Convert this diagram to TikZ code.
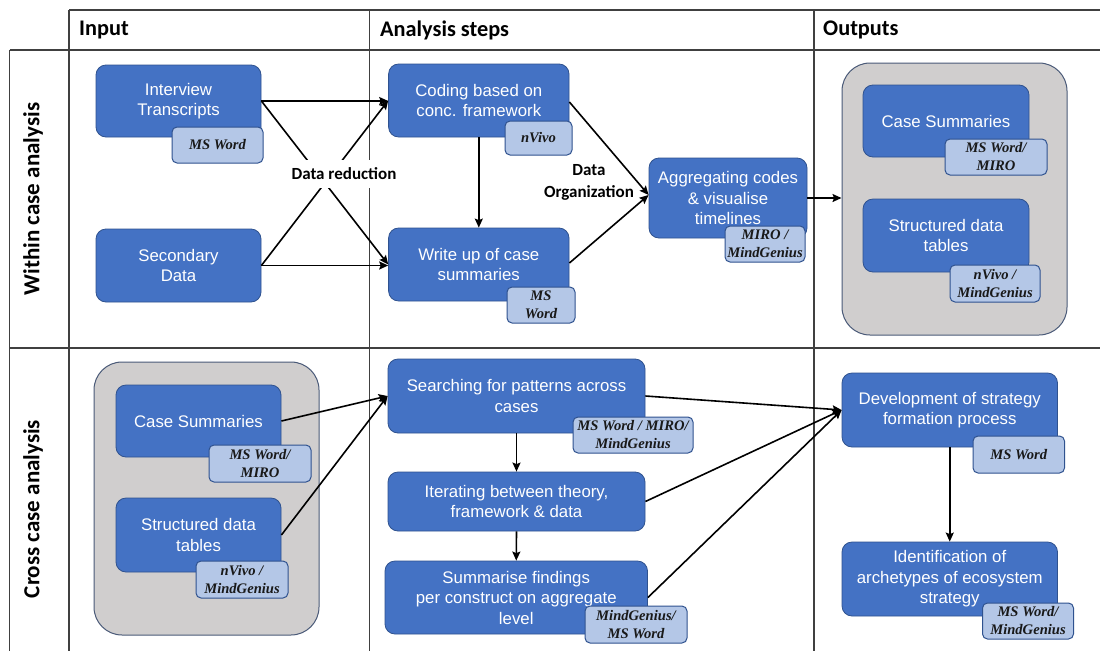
\documentclass[tikz,border=0pt]{standalone}
\usepackage{fontspec}
\setmainfont{Liberation Sans}
\newfontfamily\headfont{Carlito}
\newfontfamily\toolfont{Liberation Serif}
\usetikzlibrary{arrows.meta,calc}
\definecolor{boxblue}{HTML}{4472C4}
\definecolor{boxedge}{HTML}{2F528F}
\definecolor{tagblue}{HTML}{B4C7E7}
\definecolor{groupgray}{HTML}{D0CECE}
\definecolor{groupedge}{HTML}{4A5A78}
\definecolor{gridline}{HTML}{404040}

\begin{document}
\begin{tikzpicture}[x=1pt,y=-1pt,
  gridrule/.style={draw=gridline, line width=1.1pt},
  bluebox/.style={draw=boxedge, line width=0.8pt, fill=boxblue, rounded corners=10pt,
    text=white, align=center, font=\fontsize{16.8}{20.5}\selectfont, inner sep=0pt},
  tooltag/.style={draw=boxedge, line width=1pt, fill=tagblue, rounded corners=5pt,
    align=center, font=\toolfont\bfseries\itshape\fontsize{14.6}{18}\selectfont,
    inner sep=0pt, text=black!90},
  groupbox/.style={draw=groupedge, line width=1pt, fill=groupgray, rounded corners=28pt, inner sep=0pt},
  colhead/.style={font=\headfont\bfseries\fontsize{22.3}{26}\selectfont, anchor=west, inner sep=0pt},
  rowhead/.style={font=\headfont\bfseries\fontsize{23}{27}\selectfont, rotate=90, inner sep=0pt},
  lbl/.style={font=\headfont\bfseries\fontsize{17}{22}\selectfont, align=center},
  arr/.style={draw=black, line width=1.6pt, -{Stealth[length=9pt,width=8pt,inset=1.5pt]}}
]
\useasboundingbox (0,0) rectangle (1100,651);
\fill[white] (0,0) rectangle (1100,651);

% table rules
\draw[gridrule] (69,10) -- (1100,10);
\draw[gridrule] (9.5,50) -- (1100,50);
\draw[gridrule] (9.5,348) -- (1100,348);
\draw[gridrule] (9.5,50) -- (9.5,651);
\draw[gridrule] (69,10) -- (69,651);
\draw[gridrule] (369.5,10) -- (369.5,651);
\draw[gridrule] (814,10) -- (814,651);

% column and row headings
\node[colhead] (hinput) at (79,30) {Input};
\node[colhead] (hsteps) at (380,30) {Analysis steps};
\node[colhead] (houtputs) at (823,30) {Outputs};
\node[rowhead] (hwithin) at (33,199) {Within case analysis};
\node[rowhead] (hcross) at (33,509) {Cross case analysis};

% within case analysis
\node[bluebox, minimum width=165pt, minimum height=72pt] (interview) at (178.5,101) {Interview\\Transcripts};
\node[tooltag, minimum width=91pt, minimum height=36pt] (interviewtool) at (217.5,145) {MS Word};
\node[bluebox, minimum width=165pt, minimum height=73pt] (secondary) at (178.5,265.5) {Secondary\\Data};

\node[bluebox, minimum width=180.4pt, minimum height=73pt] (coding) at (478.8,100.5) {Coding based on\\conc. framework};
\node[tooltag, minimum width=67pt, minimum height=34pt] (codingtool) at (538.5,138) {nVivo};
\node[bluebox, minimum width=180.4pt, minimum height=73pt] (writeup) at (478.8,264.5) {Write up of case\\summaries};
\node[tooltag, minimum width=68pt, minimum height=36pt] (writeuptool) at (541,305) {MS\\Word};

\node[bluebox, minimum width=158pt, minimum height=80pt] (aggregate) at (728,198) {Aggregating codes\\\& visualise\\timelines};
\node[tooltag, minimum width=80pt, minimum height=36pt] (aggregatetool) at (765,244) {MIRO /\\MindGenius};

\node[groupbox, minimum width=225pt, minimum height=272pt] (outgroup) at (954.5,199) {};
\node[bluebox, minimum width=166pt, minimum height=72pt] (outcase) at (946,121) {Case Summaries};
\node[tooltag, minimum width=102pt, minimum height=36pt] (outcasetool) at (996,157) {MS Word/\\MIRO};
\node[bluebox, minimum width=166pt, minimum height=73pt] (outstruct) at (946,235.5) {Structured data\\tables};
\node[tooltag, minimum width=90pt, minimum height=37pt] (outstructtool) at (995,283.5) {nVivo /\\MindGenius};

% cross case analysis
\node[groupbox, minimum width=225pt, minimum height=273pt] (ingroup) at (206.5,498.5) {};
\node[bluebox, minimum width=165pt, minimum height=72pt] (incase) at (198.5,421) {Case Summaries};
\node[tooltag, minimum width=102pt, minimum height=37pt] (incasetool) at (260,463.5) {MS Word/\\MIRO};
\node[bluebox, minimum width=165pt, minimum height=74pt] (instruct) at (198.5,535) {Structured data\\tables};
\node[tooltag, minimum width=92pt, minimum height=37pt] (instructtool) at (242,579.5) {nVivo /\\MindGenius};

\node[bluebox, minimum width=257pt, minimum height=74pt] (search) at (516.5,396) {Searching for patterns across\\cases};
\node[tooltag, minimum width=120pt, minimum height=36pt] (searchtool) at (633,435) {MS Word / MIRO/\\MindGenius};
\node[bluebox, minimum width=257pt, minimum height=59pt] (iterate) at (516.5,501.5) {Iterating between theory,\\framework \& data};
\node[bluebox, minimum width=262.5pt, minimum height=73pt] (summarise) at (516.25,597.5) {Summarise findings\\per construct on aggregate\\level};
\node[tooltag, minimum width=102pt, minimum height=37pt] (summarisetool) at (636,624.5) {MindGenius/\\MS Word};

\node[bluebox, minimum width=215.5pt, minimum height=74pt] (develop) at (949.75,410) {Development of strategy\\formation process};
\node[tooltag, minimum width=91.5pt, minimum height=37pt] (developtool) at (1018.75,454.5) {MS Word};
\node[bluebox, minimum width=215.5pt, minimum height=74pt] (identify) at (949.75,579) {Identification of\\archetypes of ecosystem\\strategy};
\node[tooltag, minimum width=91pt, minimum height=36pt] (identifytool) at (1028,621) {MS Word/\\MindGenius};

% connectors, within case
\draw[arr] (interview.east) -- (interview.east -| coding.west);
\draw[arr] (interview.east) -- (writeup.west);
\draw[arr] (secondary.east) -- (coding.west);
\draw[arr] (secondary.east) -- (secondary.east -| writeup.west);
\draw[arr] (coding.south) -- (writeup.north);
\coordinate (aggin) at ([yshift=3pt]aggregate.west);
\draw[arr] ([yshift=-1.5pt]coding.east) -- (aggin);
\draw[arr] ([yshift=1.5pt]writeup.east) -- (aggin);
\draw[arr] (aggregate.east) -- (aggregate.east -| outgroup.west);

% connectors, cross case
\draw[arr] (incase.east) -- (search.west);
\draw[arr] (instruct.east) -- (search.west);
\draw[arr] (search.south) -- (iterate.north);
\draw[arr] (iterate.south) -- (summarise.north);
\draw[arr] (search.east) -- (develop.west);
\draw[arr] (iterate.east) -- (develop.west);
\draw[arr] (summarise.east) -- (develop.west);
\draw[arr] (develop.south) -- (identify.north);

% step labels
\node[lbl, fill=white, inner xsep=3pt, inner ysep=8pt] (reduction) at (344,174) {Data reduction};
\node[lbl] (organization) at (589,182) {Data\\Organization};
\end{tikzpicture}
\end{document}
